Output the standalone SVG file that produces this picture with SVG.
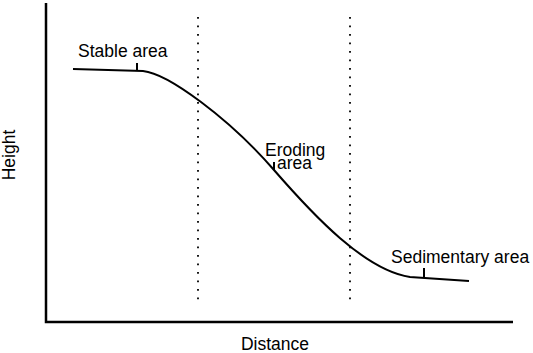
<svg xmlns="http://www.w3.org/2000/svg" width="533" height="353" viewBox="0 0 533 353">
<style>
.ax{stroke:#000;stroke-width:2.5;fill:none}
.cv{stroke:#000;stroke-width:2;fill:none}
.dot{stroke:#000;stroke-width:1.8;fill:none;stroke-dasharray:1.8 6.7}
.t{font-family:"Liberation Sans",Arial,sans-serif;font-size:17.5px;fill:#000}
</style>
<rect width="533" height="353" fill="#fff"/>
<g id="axes">
<path class="ax" d="M46,3 V322 H513"/>
<text class="t" x="275" y="350" text-anchor="middle">Distance</text>
<text class="t" transform="translate(15,155) rotate(-90)" text-anchor="middle">Height</text>
</g>
<g id="dividers">
<line class="dot" x1="198" y1="17" x2="198" y2="306"/>
<line class="dot" x1="350" y1="17" x2="350" y2="306"/>
</g>
<g id="connectors">
<path class="cv" d="M73,69 L143,71 C168,73.5 229,118.25 274,170 C314,216 365,270.25 410,277 L469,281"/>
<line class="cv" x1="137" y1="63" x2="137" y2="71"/>
<line class="cv" x1="274" y1="162" x2="274" y2="170"/>
<line class="cv" x1="424" y1="268" x2="424" y2="278"/>
</g>
<g id="stable"><text class="t" x="78" y="57">Stable area</text></g>
<g id="eroding"><text class="t"><tspan x="265" y="156">Eroding</tspan><tspan x="277" y="169">area</tspan></text></g>
<g id="sedimentary"><text class="t" x="391" y="263">Sedimentary area</text></g>
</svg>
